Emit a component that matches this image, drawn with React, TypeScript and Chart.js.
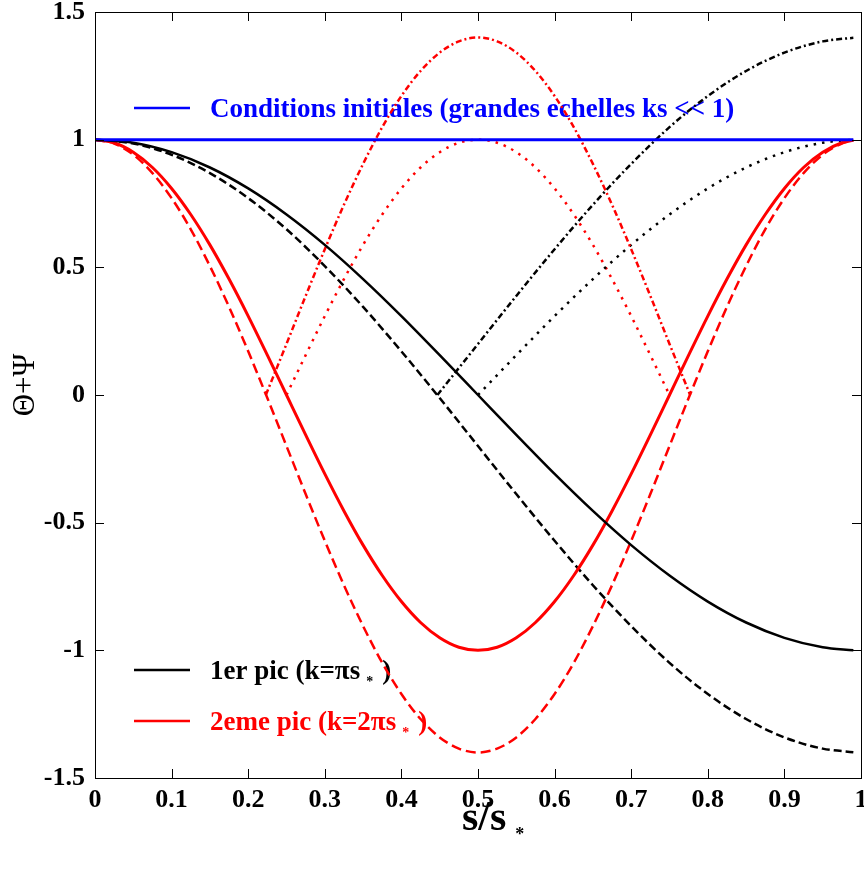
import React, { useEffect, useRef } from "react";
import { Chart, registerables } from "chart.js";

Chart.register(...registerables);

// s/s* sample positions
const sBlack = [0, 0.05, 0.1, 0.15, 0.2, 0.25, 0.3, 0.35, 0.4, 0.45, 0.5, 0.55, 0.6, 0.65, 0.7, 0.75, 0.8, 0.85, 0.9, 0.95, 0.99];
const sRed = [0, 0.025, 0.05, 0.075, 0.1, 0.125, 0.15, 0.175, 0.2, 0.225, 0.25, 0.275, 0.3, 0.325, 0.35, 0.375, 0.4, 0.425, 0.45, 0.475, 0.5, 0.525, 0.55, 0.575, 0.6, 0.625, 0.65, 0.675, 0.7, 0.725, 0.75, 0.775, 0.8, 0.825, 0.85, 0.875, 0.9, 0.925, 0.95, 0.975, 0.99];
const sBlackUpper = [0.447, 0.5, 0.55, 0.6, 0.65, 0.7, 0.75, 0.8, 0.85, 0.9, 0.95, 0.99];
const sBlackDotted = [0.5, 0.55, 0.6, 0.65, 0.7, 0.75, 0.8, 0.85, 0.9, 0.95, 0.99];
const sRedUpper = [0.223, 0.25, 0.275, 0.3, 0.325, 0.35, 0.375, 0.4, 0.425, 0.45, 0.475, 0.5, 0.525, 0.55, 0.575, 0.6, 0.625, 0.65, 0.675, 0.7, 0.725, 0.75, 0.777];
const sRedDotted = [0.25, 0.275, 0.3, 0.325, 0.35, 0.375, 0.4, 0.425, 0.45, 0.475, 0.5, 0.525, 0.55, 0.575, 0.6, 0.625, 0.65, 0.675, 0.7, 0.725, 0.75];
const sInitial = [0, 0.99];

// Theta + Psi values
const initial = [1, 1];
const black1 = [1.0, 0.988, 0.951, 0.891, 0.809, 0.707, 0.588, 0.454, 0.309, 0.156, 0.0, -0.156, -0.309, -0.454, -0.588, -0.707, -0.809, -0.891, -0.951, -0.988, -1.0];
const blackDashed = [1.0, 0.985, 0.941, 0.869, 0.771, 0.649, 0.505, 0.345, 0.171, -0.012, -0.2, -0.388, -0.571, -0.745, -0.905, -1.049, -1.171, -1.269, -1.341, -1.385, -1.399];
const blackUpper = [0.0, 0.2, 0.388, 0.571, 0.745, 0.905, 1.049, 1.171, 1.269, 1.341, 1.385, 1.399];
const blackDotted = [0.0, 0.156, 0.309, 0.454, 0.588, 0.707, 0.809, 0.891, 0.951, 0.988, 1.0];
const red1 = [1.0, 0.988, 0.951, 0.891, 0.809, 0.707, 0.588, 0.454, 0.309, 0.156, 0.0, -0.156, -0.309, -0.454, -0.588, -0.707, -0.809, -0.891, -0.951, -0.988, -1.0, -0.988, -0.951, -0.891, -0.809, -0.707, -0.588, -0.454, -0.309, -0.156, 0.0, 0.156, 0.309, 0.454, 0.588, 0.707, 0.809, 0.891, 0.951, 0.988, 0.998];
const redDashed = [1.0, 0.985, 0.941, 0.869, 0.771, 0.649, 0.505, 0.345, 0.171, -0.012, -0.2, -0.388, -0.571, -0.745, -0.905, -1.049, -1.171, -1.269, -1.341, -1.385, -1.4, -1.385, -1.341, -1.269, -1.171, -1.049, -0.905, -0.745, -0.571, -0.388, -0.2, -0.012, 0.171, 0.345, 0.505, 0.649, 0.771, 0.869, 0.941, 0.985, 0.998];
const redUpper = [0.0, 0.2, 0.388, 0.571, 0.745, 0.905, 1.049, 1.171, 1.269, 1.341, 1.385, 1.4, 1.385, 1.341, 1.269, 1.171, 1.049, 0.905, 0.745, 0.571, 0.388, 0.2, 0.0];
const redDotted = [0.0, 0.156, 0.309, 0.454, 0.588, 0.707, 0.809, 0.891, 0.951, 0.988, 1.0, 0.988, 0.951, 0.891, 0.809, 0.707, 0.588, 0.454, 0.309, 0.156, 0.0];

// axis ticks
const xTicks = [0.1, 0.2, 0.3, 0.4, 0.5, 0.6, 0.7, 0.8, 0.9];
const yTicks = [-1, -0.5, 0, 0.5, 1];

const legendInitial = "Conditions initiales (grandes echelles ks << 1)";
const legendFirst = "1er pic (k=πs";
const legendSecond = "2eme pic (k=2πs";
const yTitle = "Θ+Ψ";
const xTitle = "s/s";

const FONT = "'Liberation Serif', 'Times New Roman', serif";

const pts = (xs: number[], ys: number[]) => xs.map((x, i) => ({ x, y: ys[i] }));

export default function App() {
  const ref = useRef<HTMLCanvasElement>(null);

  useEffect(() => {
    document.body.style.margin = "0";
    const canvas = ref.current!;

    const decor = {
      id: "decor",
      beforeDatasetsDraw(chart: any) {
        const { ctx, chartArea: a } = chart;
        ctx.save();
        ctx.textBaseline = "alphabetic";
        ctx.textAlign = "left";
        const item = (y: number, color: string, text: string, star: boolean, base: number) => {
          ctx.strokeStyle = color;
          ctx.lineWidth = 2.5;
          ctx.beginPath();
          ctx.moveTo(a.left + 39, y);
          ctx.lineTo(a.left + 95, y);
          ctx.stroke();
          ctx.fillStyle = color;
          ctx.font = `bold 27px ${FONT}`;
          const tx = a.left + 115;
          ctx.fillText(text, tx, base);
          if (star) {
            let w = ctx.measureText(text).width;
            ctx.font = `bold 14px ${FONT}`;
            ctx.fillText("*", tx + w + 6, base + 7);
            const sw = ctx.measureText("*").width;
            ctx.font = `bold 27px ${FONT}`;
            ctx.fillText(")", tx + w + 6 + sw + 9, base);
          }
        };
        item(a.top + 96, "#0000ff", legendInitial, false, a.top + 105);
        item(a.top + 658, "#000000", legendFirst, true, a.top + 667);
        item(a.top + 709, "#ff0000", legendSecond, true, a.top + 718);
        ctx.restore();
      },
      afterDraw(chart: any) {
        const { ctx, chartArea: a, scales } = chart;
        ctx.save();
        ctx.strokeStyle = "#000";
        ctx.lineWidth = 1;
        ctx.strokeRect(Math.round(a.left) + 0.5, Math.round(a.top) + 0.5, Math.round(a.right - a.left), Math.round(a.bottom - a.top));
        ctx.beginPath();
        for (const v of xTicks) {
          const x = Math.round(scales.x.getPixelForValue(v)) + 0.5;
          ctx.moveTo(x, a.top);
          ctx.lineTo(x, a.top + 9);
          ctx.moveTo(x, a.bottom);
          ctx.lineTo(x, a.bottom - 9);
        }
        for (const v of yTicks) {
          const y = Math.round(scales.y.getPixelForValue(v)) + 0.5;
          ctx.moveTo(a.left, y);
          ctx.lineTo(a.left + 9, y);
          ctx.moveTo(a.right, y);
          ctx.lineTo(a.right - 9, y);
        }
        ctx.stroke();

        // y title
        ctx.fillStyle = "#000";
        ctx.save();
        ctx.translate(a.left - 69, (a.top + a.bottom) / 2 - 10);
        ctx.rotate(-Math.PI / 2);
        ctx.textAlign = "center";
        ctx.textBaseline = "middle";
        ctx.font = `31px ${FONT}`;
        ctx.fillText(yTitle, 0, 0);
        ctx.restore();

        // x title
        const cx = (a.left + a.right) / 2;
        ctx.font = `bold 42px ${FONT}`;
        ctx.textAlign = "left";
        ctx.textBaseline = "alphabetic";
        ctx.fillText(xTitle, cx - 16, a.bottom + 52);
        const w = ctx.measureText(xTitle).width;
        ctx.font = `bold 18px ${FONT}`;
        ctx.fillText("*", cx - 16 + w + 9, a.bottom + 62);
        ctx.restore();
      },
    };

    const tickFmt = (v: any) => String(Math.round(Number(v) * 10) / 10);

    const chart = new Chart(canvas, {
      type: "line",
      data: {
        datasets: [
          { data: pts(sInitial, initial), borderColor: "#0000ff", borderWidth: 3 },
          { data: pts(sBlack, black1), borderColor: "#000000", borderWidth: 2.5 },
          { data: pts(sRed, red1), borderColor: "#ff0000", borderWidth: 3 },
          { data: pts(sBlack, blackDashed), borderColor: "#000000", borderWidth: 2.5, borderDash: [8, 4] },
          { data: pts(sRed, redDashed), borderColor: "#ff0000", borderWidth: 2.5, borderDash: [10, 5] },
          { data: pts(sBlackUpper, blackUpper), borderColor: "#000000", borderWidth: 2.5, borderDash: [6, 3, 2, 3] },
          { data: pts(sRedUpper, redUpper), borderColor: "#ff0000", borderWidth: 2.5, borderDash: [6, 3, 2, 3] },
          { data: pts(sBlackDotted, blackDotted), borderColor: "#000000", borderWidth: 2.5, borderDash: [2.5, 6] },
          { data: pts(sRedDotted, redDotted), borderColor: "#ff0000", borderWidth: 2.5, borderDash: [2.5, 6] },
        ],
      },
      options: {
        responsive: false,
        animation: false,
        layout: { padding: { left: 0, top: 12, right: 3, bottom: 0 } },
        plugins: { legend: { display: false }, tooltip: { enabled: false } },
        elements: {
          point: { radius: 0 },
          line: { cubicInterpolationMode: "monotone", borderCapStyle: "butt", fill: false },
        },
        scales: {
          x: {
            type: "linear",
            min: 0,
            max: 1,
            ticks: {
              stepSize: 0.1,
              color: "#000",
              font: { family: FONT, size: 26, weight: "bold" },
              padding: 7,
              maxRotation: 0,
              autoSkip: false,
              callback: tickFmt,
            },
            grid: { display: false, drawTicks: false },
            border: { display: false },
            afterFit(s: any) {
              s.height = 91;
              s.paddingLeft = 0;
              s.paddingRight = 0;
            },
          },
          y: {
            type: "linear",
            min: -1.5,
            max: 1.5,
            ticks: {
              stepSize: 0.5,
              color: "#000",
              font: { family: FONT, size: 26, weight: "bold" },
              padding: 10,
              autoSkip: false,
              callback: tickFmt,
            },
            grid: { display: false, drawTicks: false },
            border: { display: false },
            afterFit(s: any) {
              s.width = 95;
              s.paddingTop = 0;
              s.paddingBottom = 0;
            },
          },
        },
      },
      plugins: [decor],
    } as any);

    return () => chart.destroy();
  }, []);

  return (
    <div style={{ position: "absolute", left: 0, top: 0, width: 864, height: 869, background: "#fff" }}>
      <canvas ref={ref} width={864} height={869} style={{ display: "block" }} />
    </div>
  );
}
